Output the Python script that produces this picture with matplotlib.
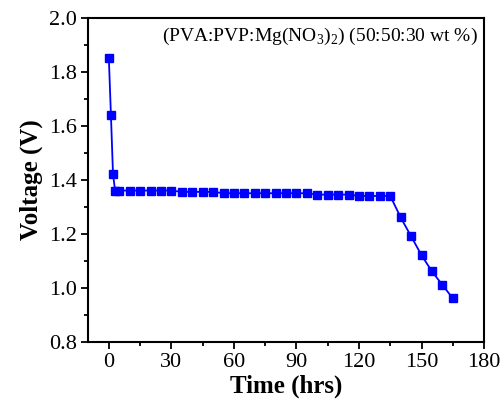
import matplotlib
matplotlib.use("Agg")
import matplotlib.pyplot as plt
from matplotlib.ticker import MultipleLocator, FormatStrFormatter

time_hrs = [0, 1, 2, 3, 5, 10, 15, 20, 25, 30, 35, 40, 45, 50, 55, 60, 65, 70, 75, 80,
            85, 90, 95, 100, 105, 110, 115, 120, 125, 130, 135, 140, 145, 150, 155, 160, 165]
voltage = [1.85, 1.64, 1.42, 1.36, 1.36, 1.36, 1.36, 1.36, 1.36, 1.36, 1.355, 1.355, 1.355,
           1.355, 1.35, 1.35, 1.35, 1.35, 1.35, 1.35, 1.35, 1.35, 1.35, 1.345, 1.345, 1.345,
           1.345, 1.34, 1.34, 1.34, 1.34, 1.26, 1.19, 1.12, 1.06, 1.01, 0.96]

plt.rcParams['font.family'] = ['Liberation Serif', 'DejaVu Serif']
plt.rcParams['mathtext.fontset'] = 'custom'
plt.rcParams['mathtext.rm'] = 'Liberation Serif'

fig = plt.figure(figsize=(5.02, 4.09), dpi=100)
ax = fig.add_axes([0.1753, 0.165, 0.789, 0.791])
ax.plot(time_hrs, voltage, color='#0000ff', lw=1.3, marker='s', ms=5.5,
        markerfacecolor='#0000ff', markeredgecolor='#0000ff')

ax.set_xlim(-10, 180)
ax.set_ylim(0.8, 2.0)
ax.xaxis.set_major_locator(MultipleLocator(30))
ax.xaxis.set_minor_locator(MultipleLocator(15))
ax.yaxis.set_major_locator(MultipleLocator(0.2))
ax.yaxis.set_minor_locator(MultipleLocator(0.1))
ax.yaxis.set_major_formatter(FormatStrFormatter('%.1f'))
ax.tick_params(which='both', direction='out', top=False, right=False, width=1.3)
ax.tick_params(which='major', length=5, labelsize=16, pad=3)
ax.tick_params(which='minor', length=3)
for s in ax.spines.values():
    s.set_linewidth(1.5)

ax.set_xlabel('Time (hrs)', fontsize=18, fontweight='bold', labelpad=2)
ax.set_ylabel('Voltage (V)', fontsize=18, fontweight='bold', labelpad=4)
ax.text(0.985, 0.975, r'(PVA:PVP:Mg(NO$_3$)$_2$) (50:50:30 wt %)', transform=ax.transAxes,
        ha='right', va='top', fontsize=14)

fig.savefig('out.png', dpi=100)
